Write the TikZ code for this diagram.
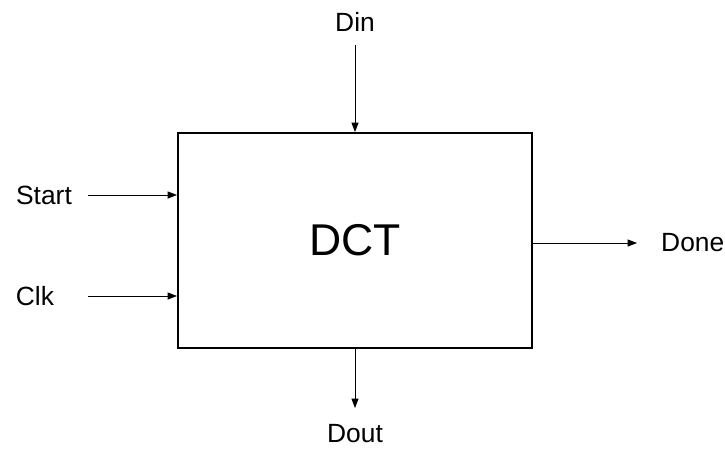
\documentclass[tikz,border=0pt]{standalone}
\usepackage{fontspec}
\setmainfont{Liberation Sans}
\usetikzlibrary{arrows.meta}

\tikzset{
  sig/.style={line width=0.8pt, -{Triangle[length=8pt,width=6pt]}},
  pin/.style={font=\fontsize{22.5}{27}\selectfont, inner sep=0pt},
  block/.style={draw, line width=1.7pt, minimum width=354*0.03cm, minimum height=215*0.03cm,
    font=\fontsize{38}{45}\selectfont, inner sep=0pt}
}

\begin{document}
\begin{tikzpicture}[x=0.03cm, y=-0.03cm]
    \useasboundingbox (0,0) rectangle (725,472);

    % The block
    \node[block] (dct) at (355,240.5) {DCT};

    % Port names
    \node[pin] (din) at (355,22) {Din};
    \node[pin] (start) at (44,195) {Start};
    \node[pin] (clk) at (35,296) {Clk};
    \node[pin, anchor=west] (done) at (661,243) {Done};
    \node[pin] (dout) at (355,434) {Dout};

    % Free ends of the wires
    \coordinate (dinend) at (355,45);
    \coordinate (startend) at (88,195);
    \coordinate (clkend) at (88,296);
    \coordinate (doneend) at (637,243);
    \coordinate (doutend) at (355,408);

    % Inputs
    \draw[sig] (dinend) -- (dct.north);
    \draw[sig] (startend) -- (startend -| dct.west);
    \draw[sig] (clkend) -- (clkend -| dct.west);

    % Outputs
    \draw[sig] (doneend -| dct.east) -- (doneend);
    \draw[sig] (dct.south) -- (doutend);
\end{tikzpicture}
\end{document}
